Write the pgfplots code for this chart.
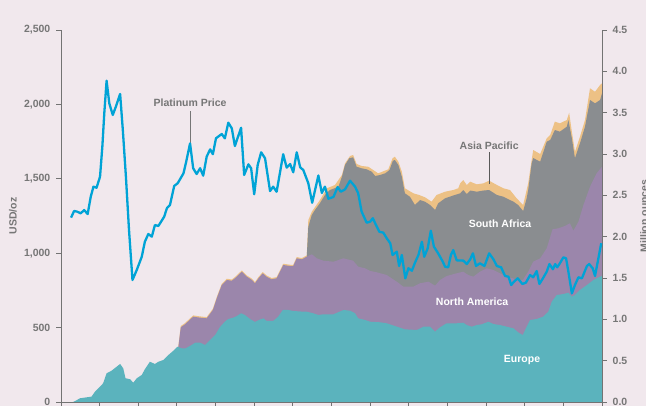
\documentclass[border=0pt]{standalone}
\usepackage{pgfplots}
\pgfplotsset{compat=1.18}
\usepackage{fontspec}
\setmainfont{Liberation Sans}
\definecolor{bg}{RGB}{241,232,237}
\definecolor{eur}{RGB}{91,179,189}
\definecolor{nam}{RGB}{155,134,171}
\definecolor{saf}{RGB}{138,141,144}
\definecolor{asp}{RGB}{237,193,133}
\definecolor{price}{RGB}{0,163,214}
\definecolor{axisgray}{RGB}{115,115,115}
\definecolor{txt}{RGB}{118,118,118}
\begin{document}
\begin{tikzpicture}
\fill[bg] (-61pt,-4pt) rectangle (585pt,402pt);
\begin{axis}[
  at={(0,0)}, anchor=south west,
  width=541pt, height=372pt, scale only axis,
  xmin=0, xmax=14, ymin=0, ymax=4.5,
  axis x line*=bottom, axis y line*=right,
  xtick={0,1,2,3,4,5,6,7,8,9,10,11,12,13,14}, xticklabels={},
  ytick={0,0.5,1,1.5,2,2.5,3,3.5,4,4.5},
  yticklabels={0.0,0.5,1.0,1.5,2.0,2.5,3.0,3.5,4.0,4.5},
  tick align=outside, major tick length=4.5pt,
  axis line style={axisgray, line width=0.9pt},
  tick style={axisgray, line width=0.9pt},
  yticklabel style={font=\fontsize{10.5}{12}\selectfont\bfseries, text=txt, inner sep=0pt, xshift=6pt},
  /pgf/number format/assume math mode=true,
  axis on top, clip=false,
  ylabel={Million ounces},
  every axis y label/.style={at={(axis description cs:1.085,0.5)}, rotate=90, anchor=base, font=\fontsize{10.5}{12}\selectfont\bfseries, text=txt},
]
% Total (incl. Asia Pacific)
\addplot[fill=asp, draw=none] coordinates {
(3.04,0.69) (3.10,0.919) (3.21,0.955) (3.42,1.047) (3.60,1.035) (3.77,1.027) (3.93,1.128) (4.03,1.269) (4.16,1.43) (4.29,1.491) (4.42,1.482) (4.50,1.511) (4.68,1.591) (4.81,1.531) (4.94,1.491) (5.02,1.451) (5.11,1.511) (5.22,1.572) (5.32,1.531) (5.45,1.499) (5.58,1.511) (5.69,1.612) (5.75,1.672) (5.93,1.66) (6.01,1.66) (6.10,1.753) (6.23,1.741) (6.36,1.773)
(6.40,2.20) (6.49,2.302) (6.70,2.443) (6.88,2.585) (7.09,2.625) (7.27,2.746) (7.35,2.887) (7.48,2.976) (7.56,2.988) (7.65,2.879) (7.78,2.855) (7.95,2.846) (8.08,2.806) (8.21,2.766) (8.47,2.815) (8.58,2.948) (8.64,2.967) (8.73,2.907) (8.82,2.786) (8.90,2.585) (9.12,2.524) (9.27,2.504) (9.42,2.476) (9.59,2.423) (9.72,2.504) (9.94,2.544) (10.15,2.564) (10.28,2.585) (10.33,2.645) (10.41,2.685) (10.50,2.625) (10.59,2.665) (10.76,2.633) (10.93,2.645) (11.08,2.677) (11.28,2.625) (11.45,2.585) (11.62,2.564) (11.79,2.464) (11.96,2.383) (12.09,2.645) (12.18,2.927) (12.22,3.048) (12.40,3.000) (12.57,3.190) (12.66,3.230) (12.78,3.391) (12.91,3.371) (13.09,3.411) (13.15,3.499) (13.22,3.270) (13.30,3.028) (13.43,3.209) (13.56,3.411) (13.69,3.795) (13.82,3.753) (13.95,3.834) (14.00,3.855)
} \closedcycle;
% Europe + North America + South Africa
\addplot[fill=saf, draw=none] coordinates {
(6.36,1.758) (6.40,2.120) (6.49,2.262) (6.57,2.322) (6.70,2.404) (6.83,2.504) (6.96,2.564) (7.18,2.604) (7.27,2.725) (7.35,2.867) (7.46,2.948) (7.56,2.960) (7.65,2.846) (7.78,2.827) (7.91,2.815) (8.04,2.786) (8.13,2.734) (8.26,2.746) (8.39,2.766) (8.50,2.806) (8.59,2.919) (8.64,2.927) (8.73,2.867) (8.82,2.725) (8.90,2.524) (9.03,2.483) (9.16,2.383) (9.29,2.443) (9.42,2.423) (9.55,2.383) (9.68,2.322) (9.76,2.403) (9.94,2.464) (10.15,2.498) (10.33,2.524) (10.41,2.564) (10.50,2.516) (10.59,2.558) (10.76,2.544) (10.93,2.558) (11.08,2.564) (11.28,2.504) (11.45,2.483) (11.62,2.443) (11.71,2.423) (11.83,2.383) (11.96,2.310) (12.05,2.464) (12.09,2.564) (12.18,2.887) (12.22,2.951) (12.40,2.907) (12.57,3.149) (12.66,3.169) (12.78,3.290) (12.91,3.270) (13.09,3.330) (13.13,3.411) (13.22,3.190) (13.30,2.948) (13.43,3.129) (13.56,3.330) (13.69,3.653) (13.82,3.613) (13.95,3.653) (14.00,3.734)
} \closedcycle;
% Europe + North America
\addplot[fill=nam, draw=none] coordinates {
(3.04,0.677) (3.10,0.904) (3.21,0.940) (3.42,1.032) (3.60,1.020) (3.77,1.012) (3.93,1.113) (4.03,1.254) (4.16,1.415) (4.29,1.476) (4.42,1.467) (4.50,1.496) (4.68,1.576) (4.81,1.516) (4.94,1.476) (5.02,1.436) (5.11,1.496) (5.22,1.557) (5.32,1.516) (5.45,1.484) (5.58,1.496) (5.69,1.597) (5.75,1.657) (5.93,1.645) (6.01,1.645) (6.10,1.738) (6.23,1.726) (6.36,1.758) (6.49,1.787) (6.62,1.738) (6.79,1.709) (7.05,1.697) (7.31,1.738) (7.56,1.709) (7.69,1.637) (7.87,1.617) (8.00,1.585) (8.17,1.569) (8.43,1.536) (8.69,1.455) (8.86,1.395) (9.12,1.395) (9.29,1.436) (9.51,1.455) (9.68,1.407) (9.81,1.476) (9.98,1.524) (10.24,1.557) (10.41,1.576) (10.54,1.536) (10.67,1.516) (10.84,1.576) (11.02,1.617) (11.19,1.597) (11.36,1.557) (11.53,1.516) (11.79,1.484) (11.95,1.476) (12.09,1.576) (12.22,1.697) (12.40,1.738) (12.57,1.859) (12.72,2.089) (12.87,2.101) (13.04,2.129) (13.17,2.162) (13.26,2.072) (13.39,2.181) (13.52,2.383) (13.69,2.604) (13.86,2.766) (14.00,2.846)
} \closedcycle;
% Europe
\addplot[fill=eur, draw=none] coordinates {
(0.31,0) (0.36,0.01) (0.49,0.045) (0.79,0.065) (0.88,0.125) (1.01,0.185) (1.09,0.226) (1.18,0.347) (1.31,0.379) (1.44,0.427) (1.53,0.460) (1.61,0.408) (1.67,0.287) (1.79,0.275) (1.87,0.233) (1.96,0.287) (2.09,0.327) (2.17,0.396) (2.30,0.487) (2.43,0.460) (2.52,0.487) (2.65,0.508) (2.78,0.569) (2.91,0.621) (3.01,0.669) (3.12,0.650) (3.23,0.650) (3.38,0.689) (3.47,0.717) (3.60,0.717) (3.73,0.689) (3.86,0.750) (3.99,0.810) (4.11,0.904) (4.24,0.971) (4.33,1.004) (4.46,1.020) (4.55,1.040) (4.66,1.073) (4.76,1.052) (4.89,1.004) (5.02,0.968) (5.12,0.992) (5.24,1.012) (5.32,0.980) (5.49,0.980) (5.62,1.032) (5.74,1.113) (5.88,1.113) (6.01,1.101) (6.19,1.095) (6.36,1.092) (6.53,1.073) (6.66,1.052) (6.79,1.061) (7.05,1.061) (7.31,1.113) (7.48,1.104) (7.61,1.073) (7.69,1.012) (7.87,0.992) (8.00,0.971) (8.26,0.964) (8.43,0.952) (8.69,0.911) (8.90,0.879) (9.21,0.871) (9.38,0.911) (9.55,0.911) (9.68,0.850) (9.81,0.904) (9.98,0.952) (10.24,0.952) (10.41,0.959) (10.50,0.931) (10.63,0.911) (10.76,0.931) (10.89,0.940) (11.06,0.971) (11.19,0.943) (11.36,0.931) (11.53,0.911) (11.71,0.891) (11.83,0.843) (11.95,0.810) (12.05,0.911) (12.14,0.992) (12.31,1.004) (12.48,1.032) (12.61,1.092) (12.70,1.213) (12.83,1.294) (13.00,1.306) (13.13,1.322) (13.22,1.274) (13.30,1.294) (13.43,1.355) (13.61,1.415) (13.78,1.476) (13.95,1.516) (14.00,1.524)
} \closedcycle;
\draw[txt, line width=0.8pt] (axis cs:3.34,3.52) -- (axis cs:3.34,3.133);
\draw[black!65, line width=0.8pt] (axis cs:11.08,3.02) -- (axis cs:11.08,2.64);
\node[font=\fontsize{10.5}{12}\selectfont\bfseries, text=txt] at (axis cs:3.34,3.617) {Platinum Price};
\node[font=\fontsize{10.5}{12}\selectfont\bfseries, text=txt] at (axis cs:11.08,3.097) {Asia Pacific};
\node[font=\fontsize{10.5}{12}\selectfont\bfseries, text=white] at (axis cs:11.36,2.153) {South Africa};
\node[font=\fontsize{10.5}{12}\selectfont\bfseries, text=white] at (axis cs:10.64,1.21) {North America};
\node[font=\fontsize{10.5}{12}\selectfont\bfseries, text=white] at (axis cs:11.93,0.508) {Europe};
\end{axis}
\begin{axis}[
  at={(0,0)}, anchor=south west,
  width=541pt, height=372pt, scale only axis,
  xmin=0, xmax=14, ymin=0, ymax=2500,
  axis y line*=left, axis x line=none,
  ytick={0,500,1000,1500,2000,2500},
  yticklabels={0,500,{1,000},{1,500},{2,000},{2,500}},
  tick align=outside, major tick length=4.5pt,
  axis line style={axisgray, line width=0.9pt},
  tick style={axisgray, line width=0.9pt},
  yticklabel style={font=\fontsize{10.5}{12}\selectfont\bfseries, text=txt, inner sep=0pt, xshift=-6pt},
  /pgf/number format/assume math mode=true,
  clip=false,
  ylabel={USD/oz},
  every axis y label/.style={at={(axis description cs:-0.0887,0.5)}, rotate=90, anchor=center, font=\fontsize{10.5}{12}\selectfont\bfseries, text=txt},
]
\addplot[price, line width=2.3pt, line join=round] coordinates {
(0.26,1239) (0.34,1284) (0.42,1279) (0.51,1268) (0.60,1290) (0.69,1263) (0.77,1380) (0.84,1447) (0.92,1440) (1.01,1514) (1.07,1716) (1.12,1940) (1.18,2159) (1.25,2007) (1.34,1929) (1.42,1985) (1.53,2070) (1.60,1828) (1.68,1514) (1.76,1156) (1.85,820) (1.96,887) (2.09,976) (2.17,1077) (2.26,1129) (2.35,1111) (2.43,1189) (2.52,1183) (2.67,1245) (2.74,1302) (2.82,1324) (2.93,1452) (3.02,1470) (3.17,1537) (3.24,1615) (3.34,1738) (3.42,1571) (3.51,1532) (3.60,1571) (3.68,1521) (3.77,1649) (3.86,1698) (3.93,1665) (4.01,1772) (4.16,1801) (4.24,1772) (4.33,1877) (4.42,1839) (4.50,1720) (4.66,1843) (4.74,1526) (4.85,1597) (4.92,1571) (5.00,1396) (5.09,1593) (5.18,1678) (5.28,1638) (5.41,1418) (5.49,1447) (5.58,1413) (5.75,1665) (5.84,1575) (5.93,1599) (6.01,1544) (6.10,1678) (6.19,1577) (6.27,1559) (6.40,1470) (6.50,1339) (6.66,1522) (6.75,1405) (6.83,1447) (6.92,1366) (7.05,1378) (7.16,1445) (7.24,1413) (7.35,1429) (7.48,1487) (7.61,1447) (7.69,1403) (7.78,1279) (7.91,1205) (8.00,1212) (8.07,1235) (8.15,1190) (8.24,1144) (8.34,1138) (8.43,1100) (8.52,1067) (8.58,988) (8.69,1010) (8.75,914) (8.82,988) (8.91,831) (8.99,899) (9.08,882) (9.16,936) (9.25,988) (9.34,1077) (9.40,976) (9.49,1033) (9.57,1151) (9.65,1044) (9.76,999) (9.88,943) (9.94,909) (10.02,905) (10.09,988) (10.15,1021) (10.24,952) (10.41,950) (10.50,927) (10.59,959) (10.66,999) (10.74,914) (10.84,932) (10.96,914) (11.08,999) (11.19,959) (11.28,914) (11.39,905) (11.49,847) (11.58,842) (11.65,786) (11.72,808) (11.82,831) (11.94,793) (12.03,802) (12.14,853) (12.22,838) (12.31,880) (12.38,793) (12.48,835) (12.57,876) (12.64,927) (12.73,892) (12.79,927) (12.84,905) (12.91,932) (13.00,972) (13.07,966) (13.13,876) (13.22,730) (13.30,786) (13.39,838) (13.48,831) (13.61,914) (13.67,927) (13.76,898) (13.82,847) (13.89,943) (13.98,1067)
};
\end{axis}
\pgfresetboundingbox
\path (-61pt,-4pt) rectangle (585pt,402pt);
\end{tikzpicture}
\end{document}
